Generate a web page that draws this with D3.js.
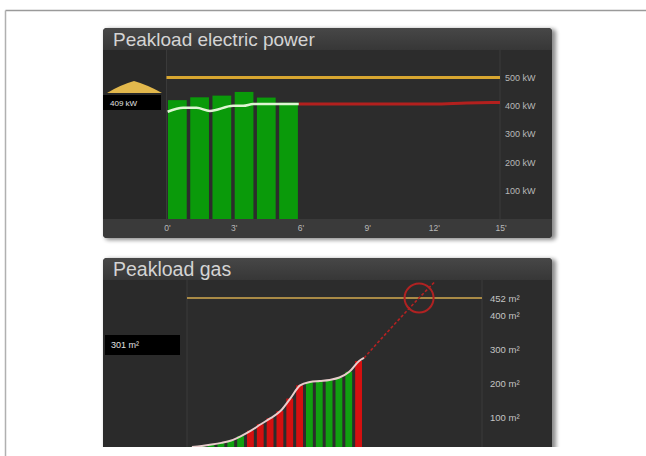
<!DOCTYPE html>
<html><head><meta charset="utf-8">
<script src="https://cdn.jsdelivr.net/npm/d3@7/dist/d3.min.js"></script>
<style>html,body{margin:0;padding:0;background:#fff;}svg{display:block;font-family:"Liberation Sans",Arial,sans-serif;}</style>
</head><body><svg id="c" width="646" height="456"></svg>
<script>
// ---------- DATA ----------
const elecTitle = "Peakload electric power";
const elecBarMinutes = [0, 1, 2, 3, 4, 5];
const elecBarValues = [420, 430, 436, 449, 429, 411];
const elecAvgMinutes = [0.05, 0.75, 1.35, 1.95, 3, 3.45, 3.9, 5.95];
const elecAvgValues = [379, 393, 393, 382, 400, 400, 406, 406];
const elecForecastMinutes = [5.95, 12, 13.5, 15];
const elecForecastValues = [406, 406, 410, 412];
const elecLimit = 500;
const elecTicks = [100, 200, 300, 400, 500];
const elecXTicks = [0, 3, 6, 9, 12, 15];
const elecCurrentLabel = "409 kW";

const gasTitle = "Peakload gas";
const gasBarValues = [12, 15, 19, 24, 31, 44, 60, 79, 97, 118, 155, 194, 204, 207, 210, 217, 234, 266];
const gasBarColors = ["g","g","g","g","g","g","r","r","r","r","r","r","g","g","g","g","g","r"];
const gasEnd = [9, 275];
const gasForecastMinutes = [9, 11.8, 12.6];
const gasForecastValues = [275, 452, 500];
const gasLimit = 452;
const gasTicks = [100, 200, 300, 400, 452];
const gasCurrentLabel = "301 m²";

// ---------- DRAW ----------
const svg = d3.select("#c");
const defs = svg.append("defs");
const tg = defs.append("linearGradient").attr("id","tbar").attr("x1",0).attr("y1",0).attr("x2",0).attr("y2",1);
tg.append("stop").attr("offset","0%").attr("stop-color","#474747");
tg.append("stop").attr("offset","100%").attr("stop-color","#373737");
const sh = defs.append("filter").attr("id","sh").attr("x","-5%").attr("y","-5%").attr("width","115%").attr("height","115%");
sh.append("feGaussianBlur").attr("stdDeviation",2);
defs.append("clipPath").attr("id","pageclip").append("rect").attr("x",0).attr("y",0).attr("width",646).attr("height",447);

// outer frame
svg.append("line").attr("x1",5.5).attr("x2",646).attr("y1",10.5).attr("y2",10.5).attr("stroke","#9a9a9a").attr("stroke-width",1.5);
svg.append("line").attr("x1",5.5).attr("x2",5.5).attr("y1",10.5).attr("y2",456).attr("stroke","#b0b0b0").attr("stroke-width",1.5);

function panel(id, x, y, w, h, title, titleSize){
  const g = svg.append("g").attr("clip-path","url(#pageclip)");
  g.append("rect").attr("x",x+2).attr("y",y+1).attr("width",w+2).attr("height",h+1).attr("rx",4).attr("fill","#000").attr("opacity",0.45).attr("filter","url(#sh)");
  defs.append("clipPath").attr("id",id).append("rect").attr("x",x).attr("y",y).attr("width",w).attr("height",h).attr("rx",4);
  const p = g.append("g").attr("clip-path",`url(#${id})`);
  p.append("rect").attr("x",x).attr("y",y).attr("width",w).attr("height",h).attr("fill","#2c2c2c");
  p.append("rect").attr("x",x).attr("y",y).attr("width",w).attr("height",22).attr("fill","url(#tbar)");
  p.append("text").attr("x",x+10).attr("y",y+18).attr("fill","#d4d4d4").attr("font-size",titleSize).text(title);
  return p;
}

// ---- Panel 1: electric ----
{
  const p = panel("p1", 103, 28, 449, 210, elecTitle, 19);
  const x = d3.scaleLinear().domain([0,15]).range([166.5,500]);
  const y = d3.scaleLinear().domain([0,500]).range([219,77.5]);
  p.append("rect").attr("x",103).attr("y",50).attr("width",63).attr("height",169).attr("fill","#282828");
  p.append("rect").attr("x",103).attr("y",219).attr("width",449).attr("height",19).attr("fill","#3a3a3a");
  [0,15].forEach(t=>p.append("line").attr("x1",x(t)).attr("x2",x(t)).attr("y1",50).attr("y2",238).attr("stroke","#3a3a3a"));
  // limit line
  p.append("line").attr("x1",x(0)).attr("x2",x(15)).attr("y1",y(elecLimit)).attr("y2",y(elecLimit)).attr("stroke","#d8a630").attr("stroke-width",3);
  // bars
  p.selectAll(".eb").data(elecBarMinutes).join("rect").attr("class","eb")
    .attr("x",d=>x(d)+1.5).attr("width",d=>x(d+1)-x(d)-3.5)
    .attr("y",(d,i)=>y(elecBarValues[i])).attr("height",(d,i)=>y(0)-y(elecBarValues[i]))
    .attr("fill","#0a9a0a");
  // forecast red line
  const ln = d3.line().x(d=>x(d[0])).y(d=>y(d[1])).curve(d3.curveMonotoneX);
  p.append("path").attr("d",ln(d3.zip(elecForecastMinutes,elecForecastValues))).attr("fill","none").attr("stroke","#b3201e").attr("stroke-width",3);
  p.append("path").attr("d",ln(d3.zip(elecAvgMinutes,elecAvgValues))).attr("fill","none").attr("stroke","#def5d2").attr("stroke-width",2.5);
  // x ticks
  p.selectAll(".xt").data(elecXTicks).join("text").attr("class","xt")
    .attr("x",d=>x(d)+1).attr("y",230.5).attr("text-anchor","middle").attr("font-size",8.5).attr("fill","#b8b8b8").text(d=>d+"'");
  // right axis
  const ax = p.append("g").attr("transform","translate(503,0)")
    .call(d3.axisRight(y).tickValues(elecTicks).tickSize(0).tickPadding(2).tickFormat(d=>d+" kW"));
  ax.select(".domain").remove();
  ax.selectAll("text").attr("fill","#b8b8b8").attr("font-size",9).attr("font-family","Liberation Sans, Arial, sans-serif");
  // current indicator
  p.append("path").attr("d","M107,93 Q120,85 134,81 Q148,85 162,93 Z").attr("fill","#e2b84c");
  p.append("rect").attr("x",103).attr("y",95).attr("width",58).attr("height",15).attr("fill","#000");
  p.append("text").attr("x",110).attr("y",105.5).attr("font-size",8).attr("fill","#e0e0e0").text(elecCurrentLabel);
}

// ---- Panel 2: gas ----
{
  const p = panel("p2", 103, 258, 449, 210, gasTitle, 19.5);
  const x = d3.scaleLinear().domain([0,15]).range([187,482]);
  const y = d3.scaleLinear().domain([0,452]).range([451,298]);
  p.append("rect").attr("x",103).attr("y",280).attr("width",84).attr("height",200).attr("fill","#2a2a2a");
  [0,15].forEach(t=>p.append("line").attr("x1",x(t)).attr("x2",x(t)).attr("y1",280).attr("y2",470).attr("stroke","#3b3b3b"));
  p.append("line").attr("x1",x(0)).attr("x2",x(15)).attr("y1",y(gasLimit)).attr("y2",y(gasLimit)).attr("stroke","#a98a46").attr("stroke-width",2);
  p.selectAll(".gb").data(gasBarValues).join("rect").attr("class","gb")
    .attr("x",(d,i)=>x(i*0.5)+1).attr("width",(d,i)=>x((i+1)*0.5)-x(i*0.5)-3)
    .attr("y",d=>y(d)).attr("height",d=>y(0)-y(d)+20)
    .attr("fill",(d,i)=>gasBarColors[i]==="r"?"#d41010":"#10a010");
  const ln = d3.line().x(d=>x(d[0])).y(d=>y(d[1])).curve(d3.curveMonotoneX);
  const pts = gasBarValues.map((v,i)=>[i*0.5+0.25, v]).concat([gasEnd]);
  p.append("path").attr("d",ln(d3.zip(gasForecastMinutes,gasForecastValues))).attr("fill","none").attr("stroke","#b52222").attr("stroke-width",1.6).attr("stroke-dasharray","3,2");
  p.append("path").attr("d",ln(pts)).attr("fill","none").attr("stroke","#e8cccc").attr("stroke-width",2);
  p.append("circle").attr("cx",x(gasForecastMinutes[1])).attr("cy",y(gasForecastValues[1])).attr("r",14.5).attr("fill","none").attr("stroke","#b02222").attr("stroke-width",2);
  const ax = p.append("g").attr("transform","translate(488,0)")
    .call(d3.axisRight(y).tickValues(gasTicks).tickSize(0).tickPadding(2).tickFormat(d=>d+" m²"));
  ax.select(".domain").remove();
  ax.selectAll("text").attr("fill","#c4c4c4").attr("font-size",9.5).attr("font-family","Liberation Sans, Arial, sans-serif");
  p.append("rect").attr("x",105).attr("y",335).attr("width",75).attr("height",20).attr("fill","#000");
  p.append("text").attr("x",111).attr("y",348).attr("font-size",9).attr("fill","#e0e0e0").text(gasCurrentLabel);
}
</script></body></html>
